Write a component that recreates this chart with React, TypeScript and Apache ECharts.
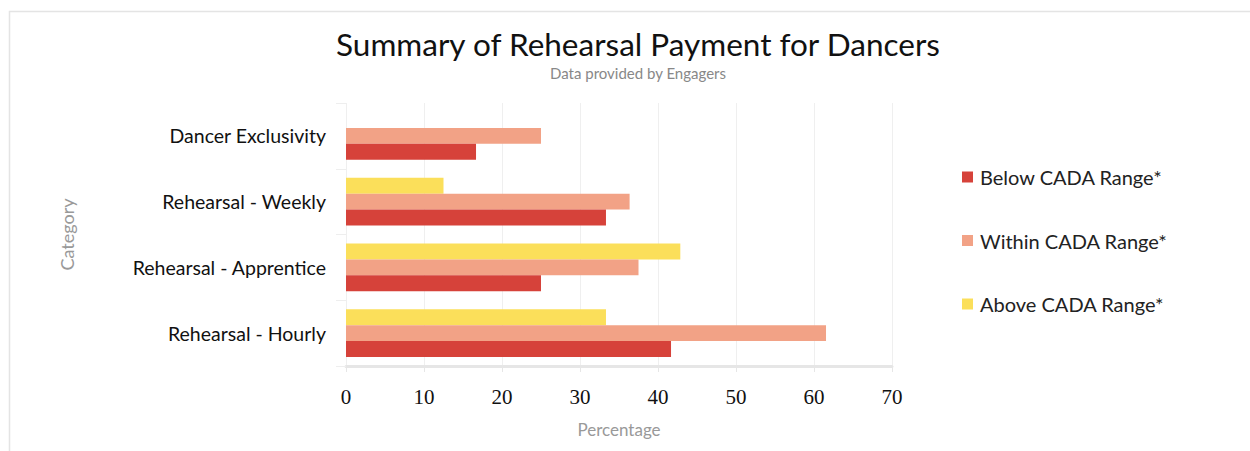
import React, { useEffect, useRef } from "react";
import * as echarts from "echarts";

const categories = [
  "Rehearsal - Hourly",
  "Rehearsal - Apprentice",
  "Rehearsal - Weekly",
  "Dancer Exclusivity",
];
const seriesNames = ["Below CADA Range*", "Within CADA Range*", "Above CADA Range*"];
const below = [41.67, 25, 33.33, 16.67];
const within = [61.54, 37.5, 36.36, 25];
const above = [33.33, 42.86, 12.5, null];
const xTicks = [0, 10, 20, 30, 40, 50, 60, 70];
const colors = ["#d6423a", "#f2a286", "#fbdf5a"];

const FONT = "Lato, 'Open Sans', sans-serif";

export default function App() {
  const ref = useRef<HTMLDivElement>(null);
  useEffect(() => {
    if (!ref.current) return;
    const chart = echarts.init(ref.current, null, { renderer: "svg" });
    const values = [below, within, above];
    // draw order: top slot = Above, bottom slot = Below
    const order = [2, 1, 0];
    chart.setOption({
      animation: false,
      backgroundColor: "#ffffff",
      textStyle: { fontFamily: FONT },
      title: {
        text: "Summary of Rehearsal Payment for Dancers",
        subtext: "Data provided by Engagers",
        left: 633,
        top: 23,
        textAlign: "center",
        itemGap: 5,
        textStyle: { fontFamily: FONT, fontSize: 31.5, fontWeight: "normal", color: "#111" },
        subtextStyle: { fontFamily: FONT, fontSize: 15, color: "#888" },
      },
      legend: {
        orient: "vertical",
        left: 957,
        top: 162,
        itemWidth: 11,
        itemHeight: 11,
        itemGap: 43.5,
        icon: "rect",
        data: seriesNames,
        textStyle: { fontFamily: FONT, fontSize: 20, color: "#222", padding: [0, 0, 0, 2] },
      },
      graphic: [
        {
          type: "polyline",
          shape: { points: [[9.5, 451], [9.5, 11.5], [1250, 11.5]] },
          style: { stroke: "#e4e4e4", lineWidth: 1.5, fill: null },
          silent: true,
        },
      ],
      grid: { left: 346, right: 358, top: 103, bottom: 85 },
      xAxis: {
        type: "value",
        min: xTicks[0],
        max: xTicks[xTicks.length - 1],
        interval: 10,
        name: "Percentage",
        nameLocation: "middle",
        nameGap: 55,
        nameTextStyle: { fontFamily: FONT, fontSize: 17, color: "#999" },
        axisLine: { show: true, lineStyle: { color: "#e6e6e6", width: 3 } },
        axisTick: { show: true, length: 6, lineStyle: { color: "#e6e6e6" } },
        axisLabel: {
          fontFamily: "'Liberation Serif', serif",
          fontSize: 21,
          color: "#111",
          margin: 20,
        },
        splitLine: { show: true, lineStyle: { color: "#efefef" } },
      },
      yAxis: {
        type: "category",
        data: categories,
        name: "Category",
        nameLocation: "middle",
        nameRotate: 90,
        nameGap: 270,
        nameTextStyle: { fontFamily: FONT, fontSize: 18, color: "#999" },
        axisLine: { show: false },
        axisTick: { show: true, length: 10, lineStyle: { color: "#eeeeee" } },
        axisLabel: { fontFamily: FONT, fontSize: 19.5, color: "#111", margin: 20 },
        splitLine: { show: false },
      },
      series: order.map((i) => ({
        name: seriesNames[i],
        type: "bar",
        data: values[i],
        barGap: "0%",
        barCategoryGap: "27%",
        itemStyle: { color: colors[i] },
      })),
    });
    return () => chart.dispose();
  }, []);
  return (
    <div
      ref={ref}
      style={{ position: "fixed", left: 0, top: 0, width: 1250, height: 451 }}
    />
  );
}
